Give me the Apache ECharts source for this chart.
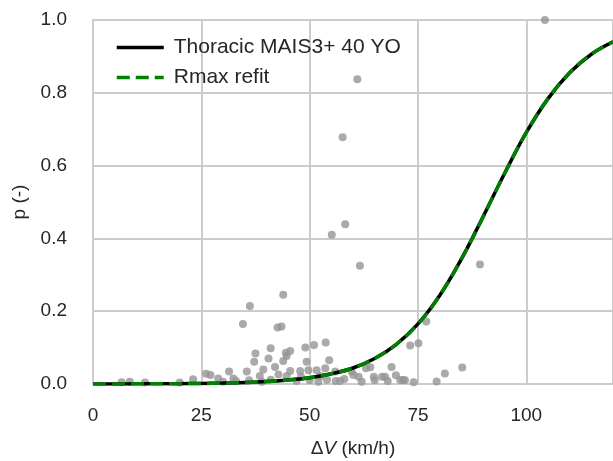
<!DOCTYPE html>
<html>
<head>
<meta charset="utf-8">
<script src="https://cdn.jsdelivr.net/npm/echarts@6/dist/echarts.min.js"></script>
<style>
html,body{margin:0;padding:0;background:#fff;}
#c{width:613px;height:461px;}
</style>
</head>
<body>
<div id="c"></div>
<script>
// ---- data ----
const xTicks = [0, 25, 50, 75, 100];
const yTicks = [0.0, 0.2, 0.4, 0.6, 0.8, 1.0];

// Fitted risk curve, read at every 5 km/h
const curveX = [0,5,10,15,20,25,30,35,40,45,50,55,60,65,70,75,80,85,90,95,100,105,110,115,120];
const thoracicP = [0.0001,0.0002,0.0004,0.0006,0.001,0.0015,0.0025,0.004,0.0066,0.011,0.017,0.028,0.044,0.07,0.109,0.165,0.243,0.343,0.459,0.579,0.691,0.784,0.855,0.906,0.940];
const refitP    = [0.0001,0.0002,0.0004,0.0006,0.001,0.0015,0.0025,0.004,0.0066,0.011,0.017,0.028,0.044,0.07,0.109,0.165,0.243,0.343,0.459,0.579,0.691,0.784,0.855,0.906,0.940];

// Observed cases (delta-V, p)
const caseDV = [104.3,61.0,57.6,58.2,55.1,61.6,89.3,76.9,
  43.9,36.2,34.6,42.6,43.5,41.0,37.5,37.2,40.5,39.3,42.0,44.5,45.5,44.7,43.9,49.0,51.0,53.7,49.3,54.5,73.2,75.1,
  35.5,31.4,26.1,27.1,23.1,28.9,32.4,38.5,42.8,44.7,
  45.5,47.8,49.7,51.6,53.6,55.9,59.7,63.0,64.0,60.1,61.3,64.8,66.7,67.4,68.9,69.9,71.6,70.9,79.3,81.2,85.2,
  6.6,8.5,12.0,20.0,30.0,33.0,36.0,39.0,41.0,47.0,50.0,52.0,54.0,56.0,58.0,62.0,65.0,68.0,72.0,74.0,57.0,48.0,52.5];
const caseP = [1.0,0.837,0.678,0.439,0.410,0.325,0.328,0.172,
  0.245,0.214,0.165,0.155,0.158,0.098,0.084,0.061,0.070,0.040,0.047,0.086,0.091,0.077,0.063,0.100,0.107,0.114,0.061,0.065,0.106,0.112,
  0.034,0.034,0.028,0.025,0.013,0.015,0.015,0.022,0.026,0.022,
  0.036,0.036,0.038,0.038,0.043,0.034,0.034,0.043,0.046,0.025,0.020,0.020,0.020,0.020,0.047,0.024,0.011,0.011,0.007,0.029,0.045,
  0.005,0.006,0.004,0.004,0.006,0.008,0.010,0.006,0.012,0.008,0.010,0.006,0.012,0.008,0.014,0.006,0.010,0.008,0.010,0.005,0.008,0.020,0.022,0.025];

const seriesNames = ['Thoracic MAIS3+ 40 YO', 'Rmax refit'];

// ---- build options ----
const pairs = (xs, ys) => xs.map((x, i) => [x, ys[i]]);
const txt = '#262626';
const font = 'Liberation Sans, Arial, sans-serif';

const chart = echarts.init(document.getElementById('c'), null, {renderer: 'canvas'});
chart.setOption({
  animation: false,
  backgroundColor: '#ffffff',
  grid: {left: 93, top: 20, width: 520, height: 364, containLabel: false, outerBoundsMode: 'none'},
  legend: {
    orient: 'vertical',
    left: 110, top: 32,
    itemWidth: 47, itemHeight: 14, itemGap: 9,
    itemStyle: {opacity: 0, borderWidth: 0},
    lineStyle: {width: 3.5},
    textStyle: {fontFamily: font, fontSize: 21, color: txt, padding: [0, 0, 0, 5]},
    data: seriesNames
  },
  xAxis: {
    type: 'value', min: 0, max: 120, interval: 25,
    axisLine: {show: true, lineStyle: {color: '#cccccc', width: 2}},
    axisTick: {show: false},
    splitLine: {show: true, lineStyle: {color: '#cccccc', width: 2}},
    axisLabel: {showMaxLabel: false, margin: 22, fontFamily: font, fontSize: 19, color: txt,
      formatter: v => xTicks.includes(v) ? String(v) : ''},
    name: '{d|Δ}{v|V}{d| (km/h)}', nameLocation: 'middle', nameGap: 55,
    nameTextStyle: {fontFamily: font, fontSize: 19, color: txt,
      rich: {d: {fontFamily: font, fontSize: 19, color: txt},
             v: {fontFamily: font, fontSize: 19, color: txt, fontStyle: 'italic'}}}
  },
  yAxis: {
    type: 'value', min: 0, max: 1, interval: 0.2,
    axisLine: {show: true, lineStyle: {color: '#cccccc', width: 2}},
    axisTick: {show: false},
    splitLine: {show: true, lineStyle: {color: '#cccccc', width: 2}},
    axisLabel: {margin: 26, fontFamily: font, fontSize: 19, color: txt,
      formatter: v => { const t = yTicks.find(k => Math.abs(k - v) < 1e-9); return t === undefined ? '' : t.toFixed(1); }},
    name: 'p (-)', nameLocation: 'middle', nameGap: 64, nameRotate: 90,
    nameTextStyle: {fontFamily: font, fontSize: 19, color: txt}
  },
  series: [
    {
      type: 'scatter', name: 'cases', data: pairs(caseDV, caseP),
      symbolSize: 8, itemStyle: {color: '#959595'}, z: 2, clip: true
    },
    {
      type: 'line', name: seriesNames[0], data: pairs(curveX, thoracicP),
      smooth: 0.4, showSymbol: false, symbol: 'none', z: 3,
      lineStyle: {color: '#000000', width: 3.5}, itemStyle: {color: '#000000'}
    },
    {
      type: 'line', name: seriesNames[1], data: pairs(curveX, refitP),
      smooth: 0.4, showSymbol: false, symbol: 'none', z: 4,
      lineStyle: {color: '#008000', width: 3.5, type: [13, 6]}, itemStyle: {color: '#008000'}
    }
  ]
});
</script>
</body>
</html>
